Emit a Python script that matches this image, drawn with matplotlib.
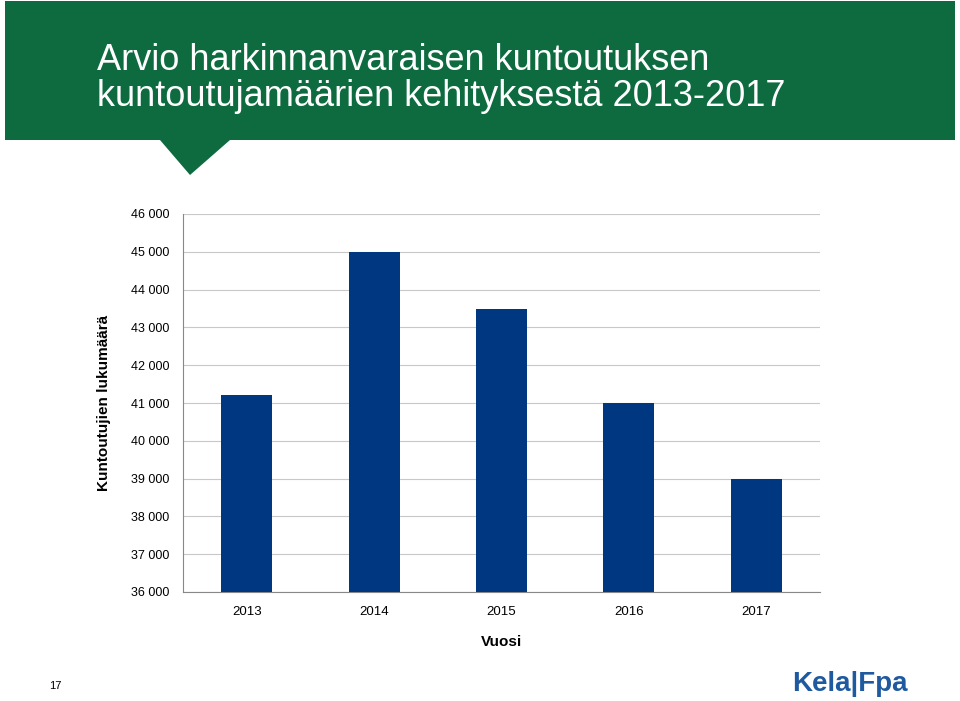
import matplotlib
matplotlib.use("Agg")
import matplotlib.pyplot as plt
from matplotlib.patches import Rectangle, Polygon
from matplotlib.ticker import FuncFormatter

years = ["2013", "2014", "2015", "2016", "2017"]
values = [41200, 45000, 43500, 41000, 39000]
yticks = list(range(36000, 46001, 1000))

W, H = 960, 701
fig = plt.figure(figsize=(W/100, H/100), dpi=100)
fig.patch.set_facecolor("white")

green = "#0d6b3f"
fig.add_artist(Rectangle((5/W, 1-140/H), 950/W, 139/H, transform=fig.transFigure,
                         facecolor=green, edgecolor="none"))
fig.add_artist(Polygon([(160/W, 1-140/H), (230/W, 1-140/H), (190/W, 1-175/H)],
                       transform=fig.transFigure, facecolor=green, edgecolor="none"))
fig.text(97/W, 1-60/H, "Arvio harkinnanvaraisen kuntoutuksen", color="white",
         fontsize=26, va="center", ha="left", family="Liberation Sans")
fig.text(97/W, 1-97/H, "kuntoutujamäärien kehityksestä 2013-2017", color="white",
         fontsize=26, va="center", ha="left", family="Liberation Sans")

ax = fig.add_axes([183/W, 1-592/H, (820-183)/W, (592-214)/H])
x = range(len(years))
ax.bar(x, values, width=0.4, color="#003781", zorder=3)
ax.set_ylim(36000, 46000)
ax.set_xlim(-0.5, 4.5)
ax.set_yticks(yticks)
ax.yaxis.set_major_formatter(FuncFormatter(lambda v, p: f"{int(v):,}".replace(",", " ")))
ax.set_xticks(list(x))
ax.set_xticklabels(years)
ax.grid(axis="y", color="#c8c8c8", linewidth=0.8, zorder=0)
for s in ["top", "right"]:
    ax.spines[s].set_visible(False)
ax.spines["left"].set_color("#888888")
ax.spines["bottom"].set_color("#888888")
ax.tick_params(axis="y", labelsize=9, length=0, pad=10)
ax.tick_params(axis="x", labelsize=9.5, length=0, pad=10)
for lab in ax.get_xticklabels() + ax.get_yticklabels():
    lab.set_family("Liberation Sans")
ax.set_ylabel("Kuntoutujien lukumäärä", fontsize=11, fontweight="bold",
              family="Liberation Sans", labelpad=14)
ax.set_xlabel("Vuosi", fontsize=11, fontweight="bold", family="Liberation Sans", labelpad=12)

fig.text(55/W, 1-686/H, "17", fontsize=8, ha="center", va="center", family="Liberation Sans")
fig.text(792/W, 1-684/H, "Kela|Fpa", fontsize=20, fontweight="bold", color="#1f5aa0",
         ha="left", va="center", family="Liberation Sans")

fig.savefig("out.png", dpi=100)
